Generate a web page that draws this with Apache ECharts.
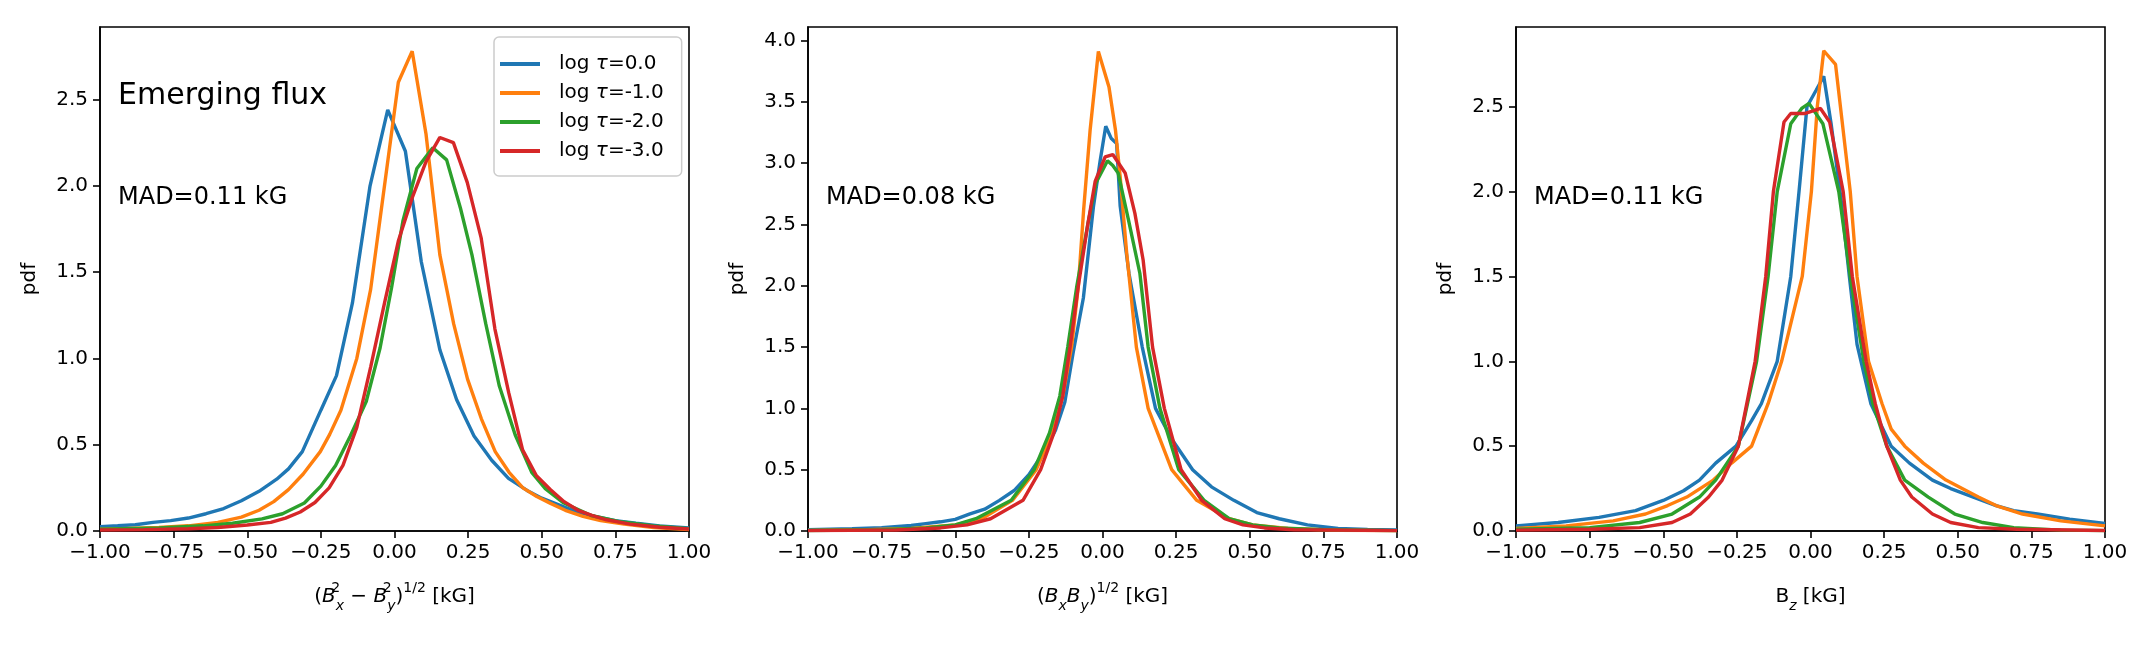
<!DOCTYPE html>
<html>
<head>
<meta charset="utf-8">
<script src="https://cdn.jsdelivr.net/npm/echarts@6/dist/echarts.min.js"></script>
<style>
html, body { margin: 0; padding: 0; background: #fff; }
#chart { width: 2145px; height: 645px; }
</style>
</head>
<body>
<div id="chart"></div>
<script>
// legend names / colours (matplotlib tab10)
var tauNames = ['log τ=0.0', 'log τ=-1.0', 'log τ=-2.0', 'log τ=-3.0'];
var colors = ['#1f77b4', '#ff7f0e', '#2ca02c', '#d62728'];

// tick labels
var xTicks = [-1, -0.75, -0.5, -0.25, 0, 0.25, 0.5, 0.75, 1];
var yTicksA = [0, 0.5, 1, 1.5, 2, 2.5];
var yTicksB = [0, 0.5, 1, 1.5, 2, 2.5, 3, 3.5, 4];
var yMax = [2.92, 4.11, 2.97];
var madTexts = ['MAD=0.11 kG', 'MAD=0.08 kG', 'MAD=0.11 kG'];

// panel 1: (Bx^2 - By^2)^1/2
var p1Tau0 = [[-1,0.025],[-0.94,0.03],[-0.88,0.036],[-0.82,0.05],[-0.76,0.06],[-0.7,0.075],[-0.64,0.1],[-0.58,0.13],[-0.52,0.175],[-0.46,0.23],[-0.4,0.3],[-0.36,0.36],[-0.313,0.46],[-0.25,0.7],[-0.197,0.9],[-0.143,1.32],[-0.083,2.0],[-0.023,2.44],[0.037,2.2],[0.091,1.56],[0.154,1.05],[0.211,0.76],[0.27,0.55],[0.33,0.41],[0.387,0.305],[0.45,0.235],[0.5,0.19],[0.56,0.15],[0.62,0.11],[0.68,0.085],[0.75,0.06],[0.82,0.045],[0.9,0.03],[1,0.018]];
var p1Tau1 = [[-1,0.01],[-0.9,0.015],[-0.8,0.02],[-0.7,0.03],[-0.6,0.05],[-0.52,0.08],[-0.46,0.12],[-0.41,0.17],[-0.36,0.24],[-0.31,0.33],[-0.252,0.46],[-0.22,0.56],[-0.182,0.7],[-0.128,1.0],[-0.081,1.4],[-0.034,2.0],[0.013,2.6],[0.06,2.78],[0.107,2.3],[0.154,1.6],[0.201,1.2],[0.248,0.88],[0.295,0.65],[0.342,0.46],[0.389,0.34],[0.436,0.25],[0.483,0.2],[0.53,0.16],[0.58,0.12],[0.64,0.085],[0.7,0.06],[0.78,0.04],[0.88,0.02],[1,0.008]];
var p1Tau2 = [[-1,0.01],[-0.8,0.018],[-0.65,0.03],[-0.55,0.045],[-0.45,0.07],[-0.38,0.1],[-0.306,0.162],[-0.25,0.26],[-0.2,0.38],[-0.15,0.55],[-0.096,0.75],[-0.049,1.06],[-0.01,1.41],[0.029,1.8],[0.076,2.1],[0.13,2.22],[0.177,2.15],[0.224,1.87],[0.263,1.6],[0.31,1.2],[0.356,0.84],[0.41,0.556],[0.466,0.34],[0.512,0.245],[0.575,0.162],[0.668,0.09],[0.76,0.055],[0.88,0.03],[1,0.014]];
var p1Tau3 = [[-1,0.006],[-0.85,0.008],[-0.7,0.013],[-0.6,0.02],[-0.5,0.035],[-0.42,0.05],[-0.37,0.075],[-0.32,0.11],[-0.27,0.165],[-0.222,0.25],[-0.175,0.38],[-0.128,0.6],[-0.081,0.95],[-0.034,1.32],[0.013,1.68],[0.06,1.93],[0.107,2.14],[0.154,2.28],[0.2,2.25],[0.247,2.02],[0.294,1.7],[0.341,1.17],[0.388,0.8],[0.435,0.47],[0.482,0.32],[0.529,0.24],[0.576,0.17],[0.623,0.12],[0.67,0.09],[0.72,0.065],[0.8,0.04],[0.9,0.022],[1,0.012]];

// panel 2: (Bx By)^1/2
var p2Tau0 = [[-1,0.01],[-0.85,0.018],[-0.75,0.027],[-0.65,0.045],[-0.6,0.06],[-0.55,0.075],[-0.5,0.095],[-0.45,0.14],[-0.4,0.178],[-0.35,0.25],[-0.3,0.33],[-0.25,0.46],[-0.2,0.64],[-0.16,0.82],[-0.128,1.05],[-0.1,1.45],[-0.065,1.9],[-0.031,2.64],[-0.008,3.02],[0.011,3.3],[0.03,3.2],[0.048,3.16],[0.06,2.65],[0.09,2.1],[0.135,1.5],[0.18,1.0],[0.235,0.75],[0.306,0.5],[0.37,0.36],[0.446,0.25],[0.524,0.15],[0.6,0.1],[0.696,0.05],[0.8,0.02],[0.9,0.012],[1,0.008]];
var p2Tau1 = [[-1,0.005],[-0.8,0.01],[-0.65,0.02],[-0.5,0.05],[-0.41,0.1],[-0.306,0.25],[-0.225,0.5],[-0.17,0.8],[-0.135,1.1],[-0.105,1.5],[-0.082,2.0],[-0.064,2.62],[-0.042,3.27],[-0.014,3.91],[0.022,3.62],[0.044,3.27],[0.06,2.89],[0.082,2.27],[0.115,1.5],[0.155,1.0],[0.235,0.5],[0.32,0.25],[0.43,0.1],[0.51,0.05],[0.63,0.02],[0.8,0.006],[1,0.003]];
var p2Tau2 = [[-1,0.004],[-0.75,0.01],[-0.6,0.025],[-0.5,0.05],[-0.43,0.1],[-0.31,0.25],[-0.232,0.5],[-0.18,0.8],[-0.145,1.1],[-0.118,1.5],[-0.087,2.0],[-0.05,2.5],[-0.022,2.84],[0.017,3.02],[0.035,2.98],[0.053,2.92],[0.088,2.54],[0.127,2.1],[0.155,1.5],[0.195,1.0],[0.259,0.5],[0.345,0.25],[0.43,0.1],[0.51,0.05],[0.6,0.025],[0.75,0.01],[1,0.003]];
var p2Tau3 = [[-1,0.003],[-0.7,0.008],[-0.55,0.025],[-0.46,0.05],[-0.38,0.1],[-0.27,0.25],[-0.21,0.5],[-0.165,0.8],[-0.135,1.1],[-0.11,1.5],[-0.082,2.0],[-0.05,2.5],[-0.025,2.85],[0.009,3.05],[0.035,3.07],[0.077,2.92],[0.11,2.59],[0.138,2.21],[0.17,1.5],[0.21,1.0],[0.267,0.5],[0.337,0.25],[0.415,0.1],[0.477,0.05],[0.55,0.025],[0.65,0.01],[1,0.003]];

// panel 3: Bz
var p3Tau0 = [[-1,0.03],[-0.857,0.05],[-0.718,0.08],[-0.594,0.12],[-0.5,0.18],[-0.431,0.237],[-0.377,0.3],[-0.322,0.4],[-0.253,0.5],[-0.2,0.65],[-0.167,0.75],[-0.113,1.0],[-0.067,1.5],[-0.039,2.0],[-0.012,2.5],[0.02,2.6],[0.045,2.68],[0.07,2.4],[0.104,1.95],[0.132,1.5],[0.158,1.1],[0.205,0.75],[0.274,0.5],[0.336,0.4],[0.414,0.3],[0.476,0.25],[0.553,0.2],[0.63,0.15],[0.69,0.12],[0.77,0.1],[0.88,0.07],[1,0.045]];
var p3Tau1 = [[-1,0.015],[-0.83,0.03],[-0.67,0.06],[-0.56,0.1],[-0.485,0.15],[-0.42,0.2],[-0.33,0.3],[-0.268,0.4],[-0.2,0.5],[-0.144,0.75],[-0.098,1.0],[-0.028,1.5],[0.003,2.0],[0.023,2.5],[0.045,2.83],[0.085,2.75],[0.135,2.0],[0.158,1.5],[0.197,1.0],[0.243,0.75],[0.274,0.6],[0.32,0.5],[0.383,0.4],[0.46,0.3],[0.57,0.2],[0.63,0.15],[0.72,0.1],[0.85,0.06],[1,0.03]];
var p3Tau2 = [[-1,0.01],[-0.75,0.02],[-0.58,0.05],[-0.47,0.1],[-0.377,0.2],[-0.322,0.3],[-0.245,0.5],[-0.183,1.0],[-0.144,1.5],[-0.113,2.0],[-0.067,2.4],[-0.03,2.49],[-0.005,2.52],[0.042,2.4],[0.096,2.0],[0.135,1.5],[0.181,1.0],[0.212,0.75],[0.259,0.5],[0.32,0.3],[0.4,0.2],[0.49,0.1],[0.585,0.05],[0.69,0.02],[0.85,0.005],[1,0.002]];
var p3Tau3 = [[-1,0.005],[-0.75,0.01],[-0.58,0.02],[-0.47,0.05],[-0.408,0.1],[-0.346,0.2],[-0.3,0.3],[-0.245,0.5],[-0.188,1.0],[-0.152,1.5],[-0.126,2.0],[-0.09,2.41],[-0.067,2.46],[-0.02,2.46],[0.034,2.49],[0.065,2.41],[0.111,2.0],[0.142,1.5],[0.189,1.0],[0.22,0.75],[0.259,0.5],[0.305,0.3],[0.344,0.2],[0.414,0.1],[0.476,0.05],[0.57,0.02],[0.7,0.01],[1,0.003]];

var panels = [[p1Tau0, p1Tau1, p1Tau2, p1Tau3], [p2Tau0, p2Tau1, p2Tau2, p2Tau3], [p3Tau0, p3Tau1, p3Tau2, p3Tau3]];

var FONT = 'DejaVu Sans';
var gridLeft = [100, 808, 1516], gridTop = 27, gridW = 589, gridH = 504;

var mathRich = {
  i: { fontFamily: FONT, fontSize: 20, fontStyle: 'italic', color: '#000', lineHeight: 32 },
  sup: { fontFamily: FONT, fontSize: 14, color: '#000', verticalAlign: 'top', lineHeight: 14 },
  supS: { fontFamily: FONT, fontSize: 14, color: '#000', verticalAlign: 'top', lineHeight: 14, width: 0 },
  sub: { fontFamily: FONT, fontSize: 14, fontStyle: 'italic', color: '#000', verticalAlign: 'bottom', lineHeight: 14 }
};
var xNames = [
  '({i|B}{supS|2}{sub|x} − {i|B}{supS|2}{sub|y}){sup|1/2} [kG]',
  '({i|B}{sub|x}{i|B}{sub|y}){sup|1/2} [kG]',
  'B{sub|z} [kG]'
];

function fmtMinus(v, d) {
  return v.toFixed(d).replace('-', '\u2212');
}

var grids = [], xAxes = [], yAxes = [], series = [], graphics = [];
for (var p = 0; p < 3; p++) {
  grids.push({
    left: gridLeft[p], top: gridTop, width: gridW, height: gridH,
    show: true, borderColor: '#000', borderWidth: 1.6, backgroundColor: '#fff'
  });
  xAxes.push({
    type: 'value', gridIndex: p, min: -1, max: 1, interval: 0.25,
    axisLine: { show: true, onZero: false, lineStyle: { color: '#000', width: 1.6 } },
    axisTick: { show: true, length: 7, lineStyle: { color: '#000', width: 1.6 }, customValues: xTicks },
    axisLabel: { margin: 12, color: '#000', fontFamily: FONT, fontSize: 20, customValues: xTicks,
      formatter: function (v) { return fmtMinus(v, 2); } },
    splitLine: { show: false },
    name: xNames[p], nameLocation: 'middle', nameGap: 66,
    nameTextStyle: { color: '#000', fontFamily: FONT, fontSize: 20, lineHeight: 32, verticalAlign: 'middle', rich: mathRich }
  });
  var yt = p === 1 ? yTicksB : yTicksA;
  yAxes.push({
    type: 'value', gridIndex: p, min: 0, max: yMax[p],
    axisLine: { show: true, onZero: false, lineStyle: { color: '#000', width: 1.6 } },
    axisTick: { show: true, length: 7, lineStyle: { color: '#000', width: 1.6 }, customValues: yt },
    axisLabel: { margin: 12, color: '#000', fontFamily: FONT, fontSize: 20, customValues: yt,
      formatter: function (v) { return v.toFixed(1); } },
    splitLine: { show: false },
    name: 'pdf', nameLocation: 'middle', nameGap: 60,
    nameTextStyle: { color: '#000', fontFamily: FONT, fontSize: 20 }
  });
  for (var s = 0; s < 4; s++) {
    series.push({
      type: 'line', name: tauNames[s], xAxisIndex: p, yAxisIndex: p,
      data: panels[p][s], symbol: 'none', smooth: false,
      lineStyle: { color: colors[s], width: 3.4 }, itemStyle: { color: colors[s] },
      z: 2 + s, animation: false
    });
  }
  graphics.push({
    type: 'text', left: gridLeft[p] + 18, top: 186,
    style: { text: madTexts[p], fill: '#000', font: '24px "DejaVu Sans"' }
  });
}
graphics.push({
  type: 'text', left: 118, top: 81,
  style: { text: 'Emerging flux', fill: '#000', font: '30px "DejaVu Sans"' }
});

var chart = echarts.init(document.getElementById('chart'), null, { renderer: 'canvas' });
chart.setOption({
  animation: false,
  backgroundColor: '#fff',
  color: colors,
  grid: grids,
  xAxis: xAxes,
  yAxis: yAxes,
  legend: {
    data: tauNames,
    orient: 'vertical', left: 494, top: 37,
    padding: [17, 18, 15, 6], itemGap: 9,
    itemWidth: 40, itemHeight: 4, icon: 'rect',
    backgroundColor: 'rgba(255,255,255,0.8)', borderColor: '#cccccc', borderWidth: 1.5, borderRadius: 5,
    textStyle: { color: '#000', fontFamily: FONT, fontSize: 20, lineHeight: 20, padding: [0, 0, 0, 14],
      rich: { i: { fontFamily: FONT, fontSize: 20, fontStyle: 'italic', color: '#000' } } },
    formatter: function (n) { return n.replace('τ', '{i|τ}'); }
  },
  series: series,
  graphic: graphics
});
</script>
</body>
</html>
